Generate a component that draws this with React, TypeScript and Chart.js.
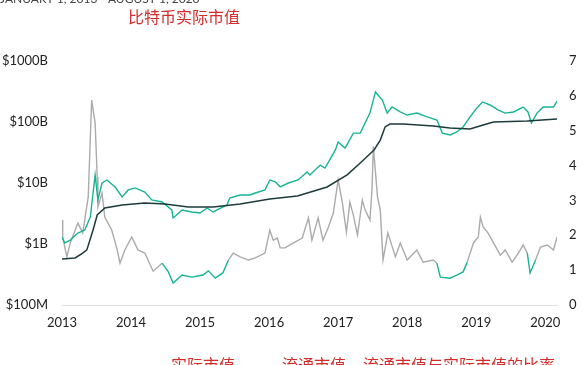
import React, { useEffect, useRef } from "react";
import { Chart, registerables } from "chart.js";

Chart.register(...registerables);

const subtitleText = "JANUARY 1, 2013 - AUGUST 1, 2020";
const titleText = "比特币实际市值";
const legendLabels = ["实际市值", "流通市值", "流通市值与实际市值的比率"];
const yearTicks = [2013, 2014, 2015, 2016, 2017, 2018, 2019, 2020];
const capTicks = [0.1, 1, 10, 100, 1000];
const capTickLabels = ["$100M", "$1B", "$10B", "$100B", "$1000B"];

// Realized cap ($B)
const realizedT = [2013.0, 2013.19, 2013.3, 2013.36, 2013.45, 2013.51, 2013.62, 2013.87, 2014.2, 2014.49, 2014.83, 2015.19, 2015.58, 2016.01, 2016.41, 2016.84, 2017.13, 2017.32, 2017.52, 2017.61, 2017.68, 2017.75, 2017.94, 2018.38, 2018.62, 2018.91, 2019.1, 2019.25, 2019.74, 2020.17];
const realizedCap = [0.57, 0.59, 0.71, 0.8, 1.7, 2.99, 3.89, 4.36, 4.7, 4.53, 4.04, 4.04, 4.53, 5.46, 6.13, 8.6, 13.6, 21.3, 34.8, 50.6, 83, 92.7, 92.7, 86.0, 79.8, 76.8, 89.3, 100, 104, 112];

// Market cap ($B)
const marketT = [2013.0, 2013.04, 2013.12, 2013.23, 2013.33, 2013.41, 2013.48, 2013.52, 2013.58, 2013.65, 2013.77, 2013.87, 2013.96, 2014.06, 2014.2, 2014.3, 2014.45, 2014.59, 2014.61, 2014.74, 2014.88, 2015.0, 2015.1, 2015.19, 2015.39, 2015.43, 2015.58, 2015.72, 2015.8, 2015.94, 2016.01, 2016.09, 2016.16, 2016.28, 2016.42, 2016.55, 2016.59, 2016.74, 2016.81, 2016.96, 2017.0, 2017.1, 2017.22, 2017.32, 2017.46, 2017.54, 2017.64, 2017.71, 2017.78, 2017.9, 2018.0, 2018.14, 2018.29, 2018.43, 2018.51, 2018.62, 2018.72, 2018.81, 2018.91, 2019.01, 2019.09, 2019.2, 2019.32, 2019.42, 2019.54, 2019.68, 2019.75, 2019.8, 2019.88, 2019.97, 2020.12, 2020.17];
const marketCap = [1.3, 1.04, 1.16, 1.51, 1.7, 2.77, 13.5, 5.27, 10, 11.2, 8.6, 5.9, 7.7, 8.3, 7.1, 5.27, 4.88, 3.61, 2.67, 3.61, 3.35, 3.22, 3.89, 3.35, 4.36, 5.68, 6.36, 6.36, 6.85, 7.7, 11.2, 10.4, 8.6, 10, 11.2, 15.1, 13.5, 19.7, 17.6, 34.8, 46.9, 37.3, 65.7, 65.7, 140, 311, 229, 140, 176, 146, 130, 140, 121, 108, 65.7, 61.4, 68.6, 83, 121, 170, 213, 190, 157, 140, 146, 176, 146, 96.3, 140, 176, 176, 221];

// Market cap / realized cap ratio
const ratioT = [2013.0, 2013.01, 2013.07, 2013.12, 2013.23, 2013.3, 2013.38, 2013.43, 2013.48, 2013.51, 2013.52, 2013.58, 2013.62, 2013.72, 2013.8, 2013.84, 2013.91, 2014.01, 2014.1, 2014.2, 2014.32, 2014.45, 2014.54, 2014.61, 2014.74, 2014.88, 2015.04, 2015.12, 2015.22, 2015.33, 2015.41, 2015.48, 2015.58, 2015.7, 2015.8, 2015.94, 2016.01, 2016.06, 2016.12, 2016.16, 2016.23, 2016.38, 2016.48, 2016.57, 2016.62, 2016.71, 2016.78, 2016.86, 2016.93, 2017.0, 2017.06, 2017.12, 2017.17, 2017.22, 2017.28, 2017.35, 2017.39, 2017.46, 2017.49, 2017.51, 2017.57, 2017.61, 2017.65, 2017.72, 2017.83, 2017.9, 2018.0, 2018.14, 2018.23, 2018.38, 2018.43, 2018.48, 2018.62, 2018.72, 2018.81, 2018.87, 2018.96, 2019.03, 2019.06, 2019.1, 2019.17, 2019.25, 2019.35, 2019.42, 2019.52, 2019.61, 2019.68, 2019.74, 2019.78, 2019.86, 2019.93, 2020.03, 2020.12, 2020.17];
const ratioVals = [2.44, 1.95, 1.38, 1.78, 2.35, 2.07, 3.1, 5.88, 5.22, 3.67, 2.81, 3.21, 2.52, 2.15, 1.58, 1.2, 1.58, 1.95, 1.58, 1.49, 0.97, 1.2, 0.95, 0.63, 0.86, 0.8, 0.86, 0.98, 0.77, 0.92, 1.29, 1.49, 1.38, 1.29, 1.35, 1.49, 2.15, 1.86, 1.92, 1.64, 1.64, 1.81, 1.92, 2.5, 1.86, 2.5, 1.86, 2.24, 2.64, 3.59, 2.95, 2.09, 2.95, 2.58, 2.01, 3.01, 2.73, 2.44, 3.3, 4.55, 3.1, 2.73, 1.29, 2.07, 1.38, 1.78, 1.29, 1.58, 1.23, 1.29, 1.2, 0.8, 0.77, 0.86, 0.95, 1.23, 1.78, 1.95, 2.52, 2.24, 2.07, 1.78, 1.43, 1.58, 1.23, 1.49, 1.72, 1.49, 0.92, 1.29, 1.66, 1.72, 1.58, 1.95];

const TEAL = "#19b394";
const GRAY = "#ababab";
const DARK = "#1d3b3b";
const RED = "#d42c2a";

const pts = (xs: number[], ys: number[]) => xs.map((x, i) => ({ x, y: ys[i] }));

const textPlugin = {
  id: "customTexts",
  afterDraw(chart: any) {
    const ctx = chart.ctx;
    ctx.save();
    ctx.fillStyle = "#444";
    ctx.font = "12px Lato";
    ctx.textAlign = "left";
    ctx.textBaseline = "alphabetic";
    ctx.fillText(subtitleText, 0, 3);

    ctx.fillStyle = RED;
    ctx.font = '16px "Noto Sans CJK SC"';
    ctx.textBaseline = "middle";
    ctx.fillText(titleText, 128, 17);

    const legendX = [171, 282, 363];
    legendLabels.forEach((t, i) => ctx.fillText(t, legendX[i], 365));
    ctx.restore();
  },
};

export default function App() {
  const ref = useRef<HTMLCanvasElement>(null);
  useEffect(() => {
    if (!ref.current) return;
    Chart.defaults.font.family = "Lato";
    const chart = new Chart(ref.current, {
      type: "line",
      data: {
        datasets: [
          {
            label: legendLabels[0],
            data: pts(realizedT, realizedCap),
            borderColor: DARK,
            borderWidth: 1.5,
            pointRadius: 0,
            yAxisID: "y",
          },
          {
            label: legendLabels[1],
            data: pts(marketT, marketCap),
            borderColor: TEAL,
            borderWidth: 1.4,
            pointRadius: 0,
            yAxisID: "y",
          },
          {
            label: legendLabels[2],
            data: pts(ratioT, ratioVals),
            borderColor: GRAY,
            borderWidth: 1.4,
            pointRadius: 0,
            yAxisID: "y1",
            segment: {
              borderColor: (c: any) =>
                c.p0.parsed.y < 0.96 || c.p1.parsed.y < 0.96 ? TEAL : GRAY,
            },
          },
        ],
      },
      options: {
        animation: false,
        responsive: false,
        maintainAspectRatio: false,
        layout: { padding: { left: 0, right: 0, top: 61, bottom: 35 } },
        plugins: { legend: { display: false }, title: { display: false }, tooltip: { enabled: false } },
        scales: {
          x: {
            type: "linear",
            min: 2013,
            max: 2020.17,
            grid: { display: false, drawTicks: false },
            border: { display: true, color: "#e2e2e2", width: 1 },
            afterBuildTicks: (s: any) => {
              s.ticks = yearTicks.map((v) => ({ value: v }));
            },
            afterFit: (s: any) => {
              s.height = 25;
            },
            ticks: {
              padding: 10,
              color: "#222",
              font: { size: 13 },
              maxRotation: 0,
              autoSkip: false,
              callback: (v: any) => String(v),
            },
          },
          y: {
            type: "logarithmic",
            position: "left",
            min: 0.1,
            max: 1000,
            grid: { display: false, drawTicks: false },
            border: { display: false },
            afterBuildTicks: (s: any) => {
              s.ticks = capTicks.map((v) => ({ value: v }));
            },
            afterFit: (s: any) => {
              s.width = 62;
            },
            ticks: {
              padding: 14,
              color: "#222",
              font: { size: 13 },
              callback: (v: any) => {
                const i = capTicks.findIndex((c) => Math.abs(c - v) < 1e-9 * Math.max(1, c));
                return i >= 0 ? capTickLabels[i] : "";
              },
            },
          },
          y1: {
            type: "linear",
            position: "right",
            min: 0,
            max: 7,
            grid: { display: false, drawTicks: false },
            border: { display: false },
            afterFit: (s: any) => {
              s.width = 30;
            },
            ticks: { stepSize: 1, padding: 12, color: "#222", font: { size: 13 } },
          },
        },
      },
      plugins: [textPlugin],
    } as any);
    return () => chart.destroy();
  }, []);
  return (
    <div style={{ position: "absolute", left: 0, top: 0, width: 587, height: 365, background: "#fff" }}>
      <canvas ref={ref} width={587} height={365} />
    </div>
  );
}
